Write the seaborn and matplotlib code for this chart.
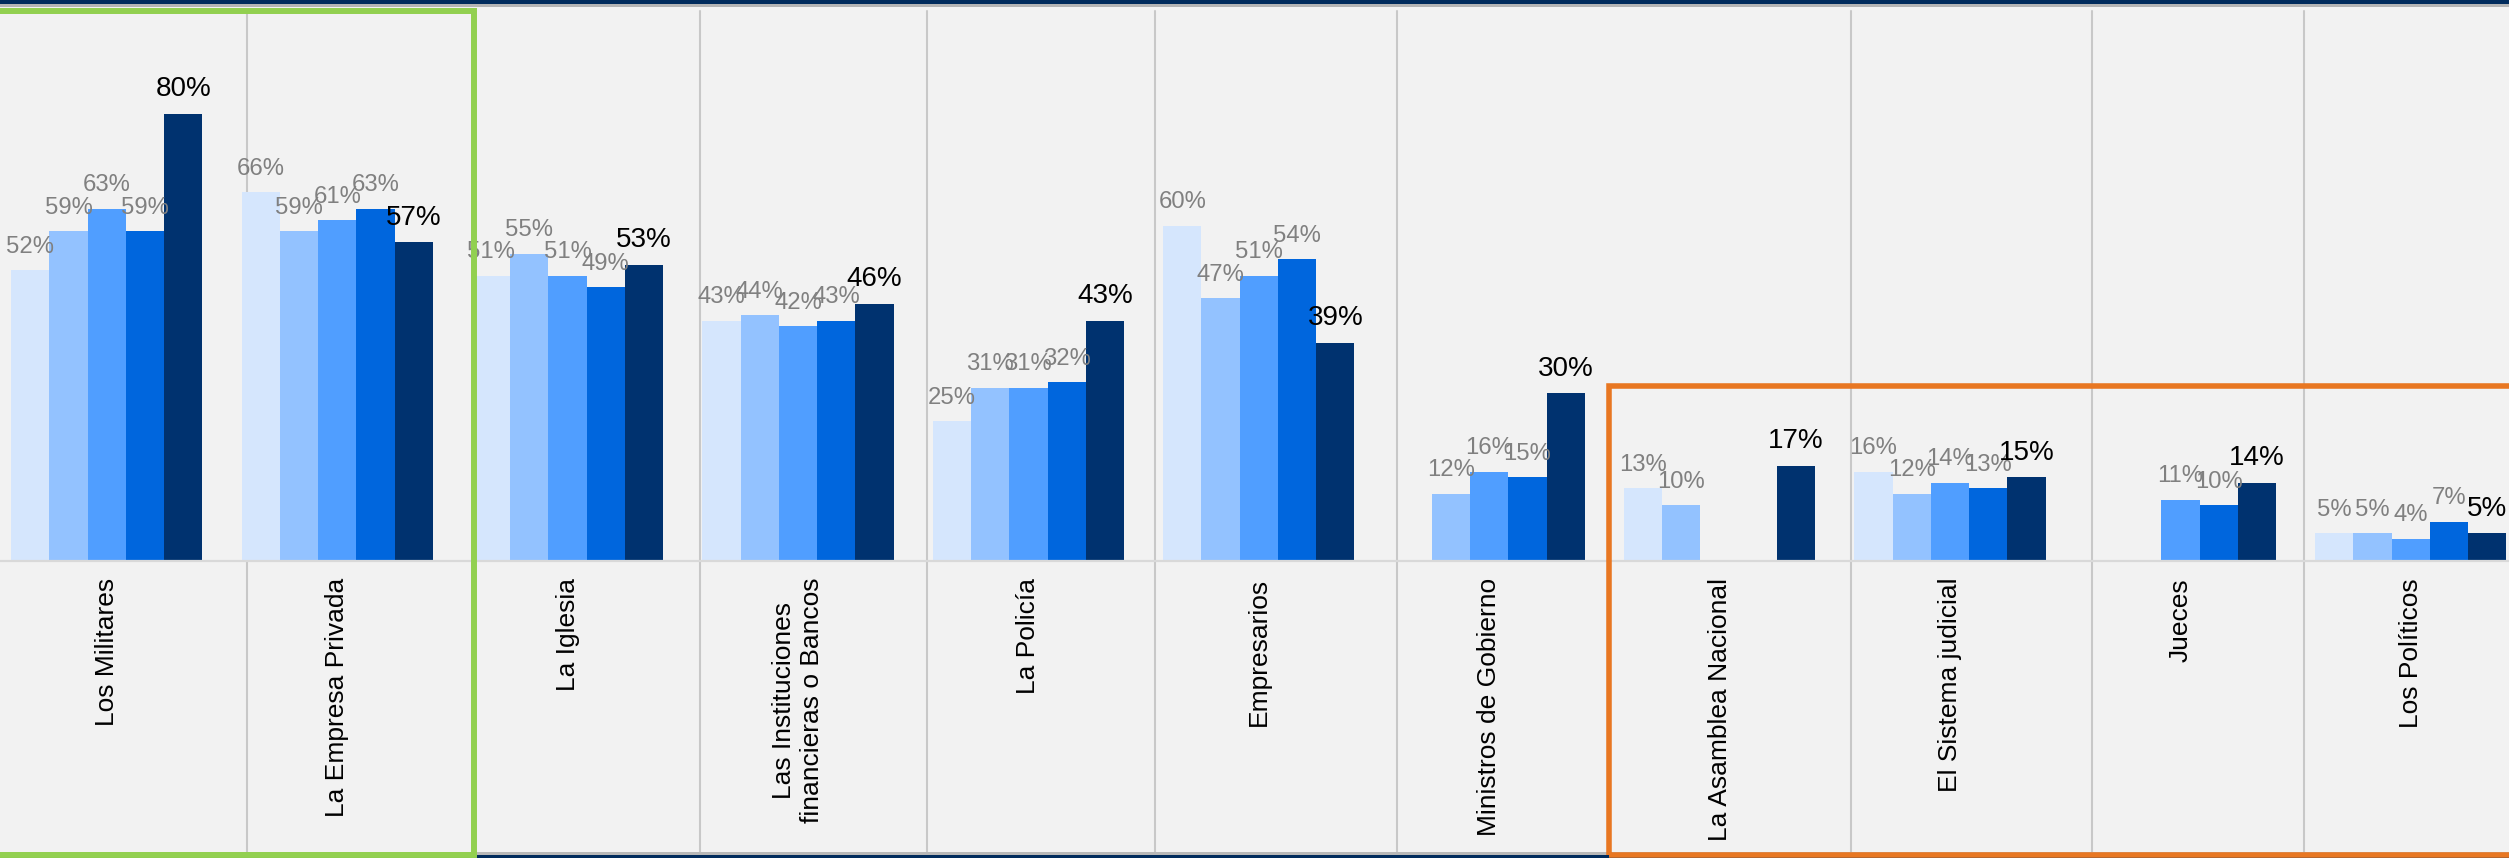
import numpy as np
import pandas as pd
import matplotlib
matplotlib.use("Agg")
import matplotlib.pyplot as plt
import seaborn as sns
from matplotlib.lines import Line2D
from matplotlib.patches import Rectangle

# ------------------------------------------------------------
# Data (percent of trust per institution, five survey waves)
# ------------------------------------------------------------
instituciones = [
    "Los Militares", "La Empresa Privada", "La Iglesia",
    "Las Instituciones\nfinancieras o Bancos", "La Policía", "Empresarios",
    "Ministros de Gobierno", "La Asamblea Nacional", "El Sistema judicial",
    "Jueces", "Los Políticos",
]
series = ["S1", "S2", "S3", "S4", "S5"]
s1 = [52, 66, 51, 43, 25, 60, None, 13, 16, None, 5]
s2 = [59, 59, 55, 44, 31, 47, 12, 10, 12, None, 5]
s3 = [63, 61, 51, 42, 31, 51, 16, None, 14, 11, 4]
s4 = [59, 63, 49, 43, 32, 54, 15, None, 13, 10, 7]
s5 = [80, 57, 53, 46, 43, 39, 30, 17, 15, 14, 5]

colores = ["#D5E6FD", "#93C2FF", "#509EFF", "#0066DD", "#00326F"]

rows = []
for serie, vals in zip(series, [s1, s2, s3, s4, s5]):
    for inst, v in zip(instituciones, vals):
        if v is not None:
            rows.append({"institucion": inst, "serie": serie, "valor": v})
df = pd.DataFrame(rows)

# ------------------------------------------------------------
# Style
# ------------------------------------------------------------
sns.set_theme(style="white")
plt.rcParams["font.family"] = ["Liberation Sans", "DejaVu Sans"]

BG = "#F2F2F2"
W, H = 2509, 858

def fx(x):
    return x / W

def fy(y):
    return 1 - y / H

fig = plt.figure(figsize=(W / 100, H / 100), dpi=100, facecolor=BG)
ax = fig.add_axes([-8.4 / W, (H - 561) / H, 2534.4 / W, 559 / H])
ax.set_facecolor("none")

sns.barplot(
    data=df, x="institucion", y="valor", hue="serie",
    order=instituciones, hue_order=series, palette=colores,
    width=0.83, gap=0, saturation=1, linewidth=0, errorbar=None,
    legend=False, ax=ax,
)

ax.set_xlim(-0.5, 10.5)
ax.set_ylim(0, 100)
ax.set_xlabel("")
ax.set_ylabel("")
ax.set_yticks([])
for side in ["top", "left", "right"]:
    ax.spines[side].set_visible(False)
ax.spines["bottom"].set_color("#D9D9D9")
ax.spines["bottom"].set_linewidth(1.6)

ax.set_xticks(range(len(instituciones)))
ax.set_xticklabels(instituciones, rotation=90, ha="center", va="top",
                   multialignment="center")
ax.tick_params(axis="x", which="major", length=0, pad=12.2, labelsize=19,
               labelcolor="black")
ax.set_xticks(np.arange(0.5, len(instituciones) - 0.5, 1), minor=True)
ax.tick_params(axis="x", which="minor", length=5.8, width=1.1,
               color="#D9D9D9", direction="out")

# value labels
for i, cont in enumerate(ax.containers):
    last = i == len(series) - 1
    for bar in cont:
        h = bar.get_height()
        if np.isnan(h):
            continue
        ax.annotate(f"{h:.0f}%", (bar.get_x() + bar.get_width() / 2, h),
                    xytext=(0, 12.6), textcoords="offset points",
                    ha="center", va="baseline",
                    fontsize=20 if last else 17.2,
                    color="black" if last else "#808080",
                    annotation_clip=False)

# ------------------------------------------------------------
# Slide decorations: table separators, bands, highlight boxes
# ------------------------------------------------------------
for xs in [247, 700, 927, 1155, 1397, 1851, 2092, 2304]:
    fig.add_artist(Line2D([fx(xs), fx(xs)], [fy(11), fy(853)],
                          color="#C8C8C8", lw=1.5, zorder=-1))

fig.add_artist(Rectangle((0, fy(4)), 1, 4 / H, color="#002B5C", lw=0, zorder=6))
fig.add_artist(Rectangle((0, fy(7)), 1, 3 / H, color="#B4B4B4", lw=0, zorder=6))
fig.add_artist(Rectangle((0, fy(855)), 1, 3 / H, color="#B8B8B8", lw=0, zorder=6))
fig.add_artist(Rectangle((0, 0), 1, 3 / H, color="#002B5C", lw=0, zorder=6))

# green box
fig.add_artist(Rectangle((fx(-10), fy(855)), fx(484), (855 - 11) / H,
                         fill=False, ec="#92D050", lw=4.3, zorder=7))
# orange box
fig.add_artist(Rectangle((fx(1609), fy(855)), fx(920), (855 - 385.5) / H,
                         fill=False, ec="#E87722", lw=4.0, zorder=7))

fig.savefig("out.png", dpi=100, facecolor=BG)
